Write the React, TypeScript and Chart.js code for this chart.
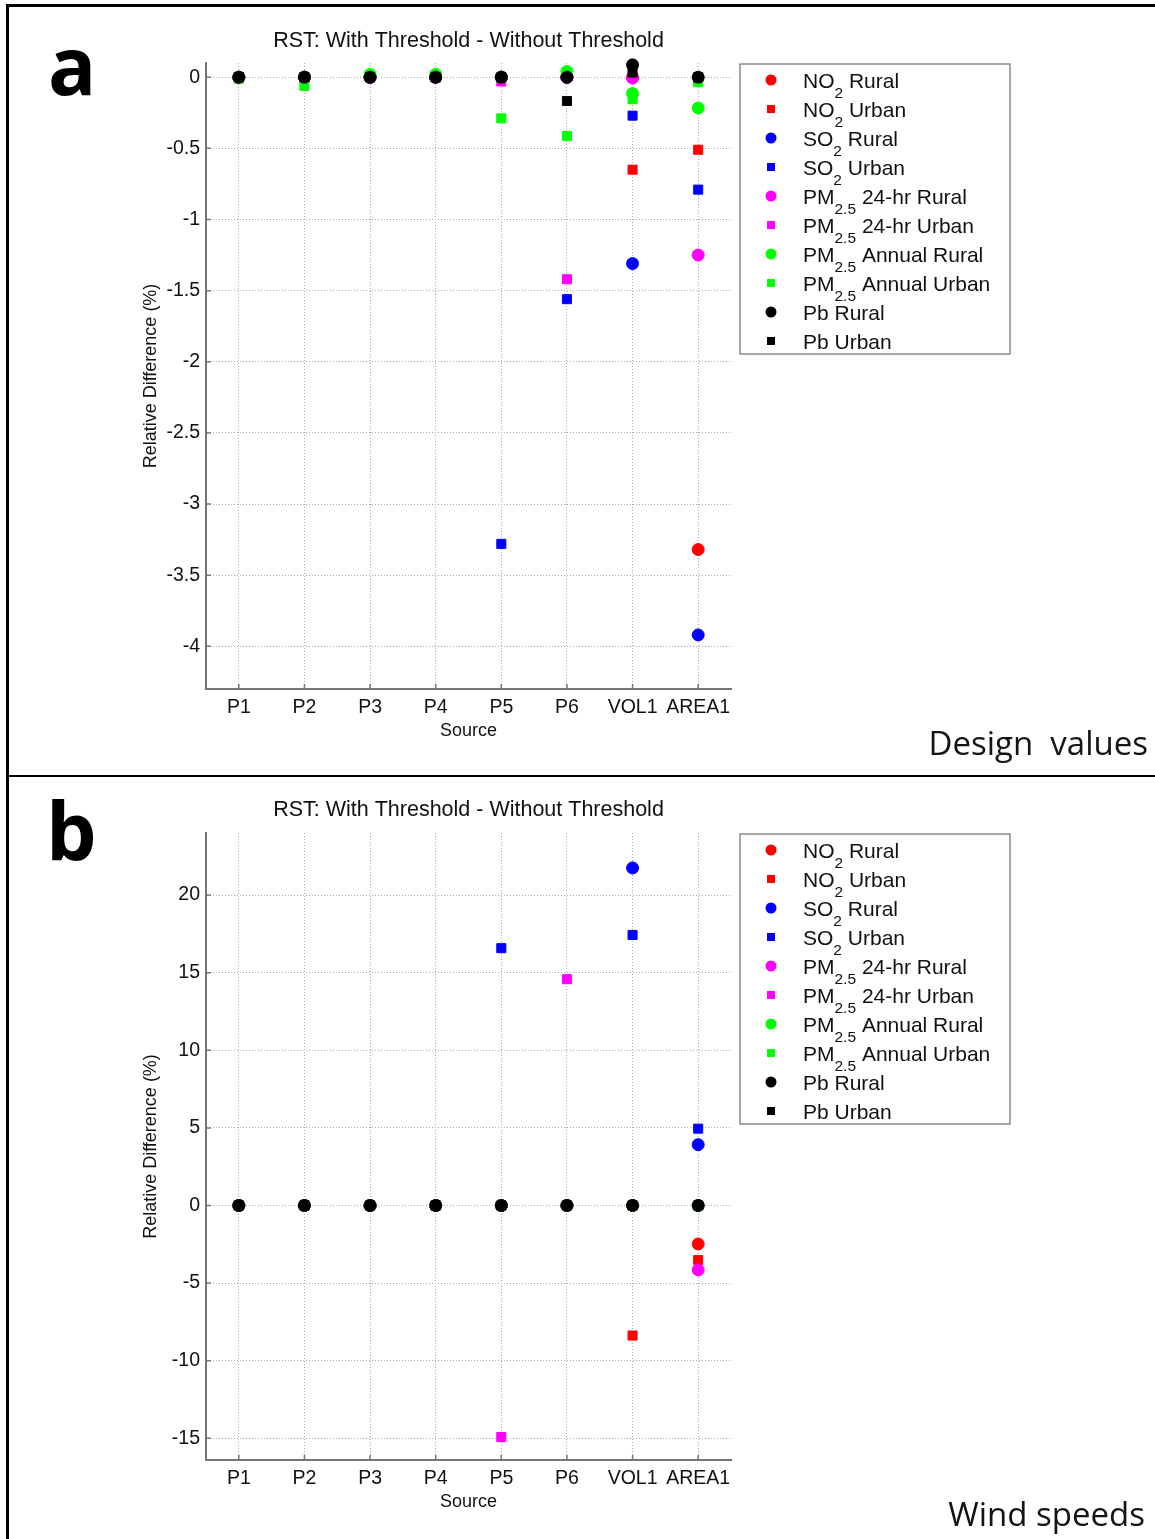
import React, { useEffect, useRef } from 'react';
import { Chart, registerables } from 'chart.js';

Chart.register(...registerables);

// ---------- categories & series ----------
const sources = ['P1', 'P2', 'P3', 'P4', 'P5', 'P6', 'VOL1', 'AREA1'];

const seriesBase = ['NO', 'NO', 'SO', 'SO', 'PM', 'PM', 'PM', 'PM', 'Pb', 'Pb'];
const seriesSub = ['2', '2', '2', '2', '2.5', '2.5', '2.5', '2.5', '', ''];
const seriesRest = ['Rural', 'Urban', 'Rural', 'Urban', '24-hr Rural', '24-hr Urban', 'Annual Rural', 'Annual Urban', 'Rural', 'Urban'];
const seriesColors = ['#ff0000', '#ff0000', '#0000ff', '#0000ff', '#ff00ff', '#ff00ff', '#00ff00', '#00ff00', '#000000', '#000000'];
const seriesShapes = ['circle', 'rect', 'circle', 'rect', 'circle', 'rect', 'circle', 'rect', 'circle', 'rect'];

// ---------- panel a: design values (%) ----------
const no2RuralA = [0, 0, 0, 0, 0, 0, 0, -3.32];
const no2UrbanA = [0, 0, 0, 0, 0, 0, -0.65, -0.51];
const so2RuralA = [0, 0, 0, 0, 0, 0, -1.31, -3.92];
const so2UrbanA = [0, 0, 0, 0, -3.28, -1.56, -0.27, -0.79];
const pm24RuralA = [0, 0, 0, 0, 0, 0, -0.005, -1.25];
const pm24UrbanA = [0, 0, 0, 0, -0.03, -1.42, 0, 0];
const pmAnnRuralA = [0, 0, 0.02, 0.02, 0, 0.04, -0.115, -0.216];
const pmAnnUrbanA = [-0.01, -0.061, 0.01, 0.01, -0.289, -0.413, -0.155, -0.035];
const pbRuralA = [0, 0, 0, 0, 0, 0, 0.087, 0];
const pbUrbanA = [0, 0, 0, 0, 0, -0.167, 0.033, 0];
const yTicksA = [0, -0.5, -1, -1.5, -2, -2.5, -3, -3.5, -4];

// ---------- panel b: wind speeds (%) ----------
const no2RuralB = [0, 0, 0, 0, 0, 0, 0, -2.48];
const no2UrbanB = [0, 0, 0, 0, 0, 0, -8.38, -3.52];
const so2RuralB = [0, 0, 0, 0, 0, 0, 21.75, 3.92];
const so2UrbanB = [0, 0, 0, 0, 16.58, 0, 17.43, 4.95];
const pm24RuralB = [0, 0, 0, 0, 0, 0, 0, -4.15];
const pm24UrbanB = [0, 0, 0, 0, -14.92, 14.58, 0, 0];
const pmAnnRuralB = [0, 0, 0, 0, 0, 0, 0, 0];
const pmAnnUrbanB = [0, 0, 0, 0, 0, 0, 0, 0];
const pbRuralB = [0, 0, 0, 0, 0, 0, 0, 0];
const pbUrbanB = [0, 0, 0, 0, 0, 0, 0, 0];
const yTicksB = [20, 15, 10, 5, 0, -5, -10, -15];

const titleText = 'RST: With Threshold - Without Threshold';
const xTitleText = 'Source';
const yTitleText = 'Relative Difference (%)';

const FONT = '"Liberation Sans", Arial, Helvetica, sans-serif';
const CAPTION_FONT = '"Open Sans", "Noto Sans", sans-serif';
const TXT = '#111111';
const AXIS = '#757575';
const GRID = '#ababab';

type PanelProps = {
  values: number[][];
  yMin: number;
  yMax: number;
  yTicks: number[];
  letter: string;
  caption: string;
  height: number;
  titleTop: number;
  titleBottom: number;
  padBottom: number;
  legendTop: number;
  letterX: number;
  letterY: number;
  captionX: number;
  captionY: number;
};

function Panel(p: PanelProps) {
  const ref = useRef<HTMLCanvasElement | null>(null);

  useEffect(() => {
    if (!ref.current) return;

    const decor = {
      id: 'decor',
      afterDraw(chart: any) {
        const ctx = chart.ctx as CanvasRenderingContext2D;
        const xs = chart.scales.x;
        const ys = chart.scales.y;
        const area = chart.chartArea;
        ctx.save();
        // inward tick marks
        ctx.strokeStyle = AXIS;
        ctx.lineWidth = 1.5;
        ctx.beginPath();
        for (let i = 0; i < sources.length; i++) {
          const x = xs.getPixelForTick(i);
          ctx.moveTo(x, area.bottom);
          ctx.lineTo(x, area.bottom - 5);
        }
        for (const t of ys.ticks) {
          const y = ys.getPixelForValue(t.value);
          ctx.moveTo(area.left, y);
          ctx.lineTo(area.left + 5, y);
        }
        ctx.stroke();

        // legend
        const boxL = 740;
        const boxR = 1010;
        const top = p.legendTop;
        const rowH = 29;
        ctx.fillStyle = '#ffffff';
        ctx.fillRect(boxL, top, boxR - boxL, 290);
        ctx.strokeStyle = '#8a8a8a';
        ctx.lineWidth = 1.5;
        ctx.strokeRect(boxL, top, boxR - boxL, 290);
        for (let i = 0; i < seriesBase.length; i++) {
          const cy = top + 16 + rowH * i;
          const mx = 771;
          ctx.fillStyle = seriesColors[i];
          if (seriesShapes[i] === 'circle') {
            ctx.beginPath();
            ctx.arc(mx, cy, 5.5, 0, Math.PI * 2);
            ctx.fill();
          } else {
            ctx.fillRect(mx - 4, cy - 4, 8, 8);
          }
          ctx.fillStyle = TXT;
          ctx.textAlign = 'left';
          ctx.textBaseline = 'alphabetic';
          const mainFont = `21px ${FONT}`;
          const subFont = `15.5px ${FONT}`;
          let x = 803;
          ctx.font = mainFont;
          ctx.fillText(seriesBase[i], x, cy + 7.5);
          x += ctx.measureText(seriesBase[i]).width;
          if (seriesSub[i]) {
            ctx.font = subFont;
            ctx.fillText(seriesSub[i], x, cy + 18);
            x += ctx.measureText(seriesSub[i]).width;
            ctx.font = mainFont;
          }
          ctx.fillText(' ' + seriesRest[i], x, cy + 7.5);
        }

        // panel letter
        ctx.fillStyle = '#000000';
        ctx.textAlign = 'left';
        ctx.textBaseline = 'alphabetic';
        ctx.font = `bold 80px ${CAPTION_FONT}`;
        ctx.fillText(p.letter, p.letterX, p.letterY);

        // caption
        ctx.font = `33px ${CAPTION_FONT}`;
        ctx.textAlign = 'right';
        ctx.fillStyle = '#141414';
        ctx.fillText(p.caption, p.captionX, p.captionY);
        ctx.restore();
      },
    };

    const chart = new Chart(ref.current, {
      type: 'line',
      data: {
        labels: sources,
        datasets: p.values.map((vals, i) => ({
          label: `${seriesBase[i]}${seriesSub[i]} ${seriesRest[i]}`,
          data: vals,
          showLine: false,
          pointStyle: seriesShapes[i] as any,
          pointRadius: seriesShapes[i] === 'circle' ? 6 : 6.4,
          pointHoverRadius: seriesShapes[i] === 'circle' ? 6 : 6.4,
          pointBackgroundColor: seriesColors[i],
          pointBorderColor: seriesColors[i],
          pointBorderWidth: 1,
          borderColor: seriesColors[i],
          backgroundColor: seriesColors[i],
          order: 10 - i,
          clip: false as any,
        })),
      },
      options: {
        animation: false,
        responsive: true,
        maintainAspectRatio: false,
        events: [],
        layout: { padding: { left: 140, right: 424, top: 0, bottom: p.padBottom } },
        plugins: {
          legend: { display: false },
          tooltip: { enabled: false },
          title: {
            display: true,
            text: titleText,
            fullSize: false,
            color: TXT,
            font: { family: FONT, size: 21.5, weight: 'normal', lineHeight: '24px' } as any,
            padding: { top: p.titleTop, bottom: p.titleBottom },
          },
        },
        scales: {
          x: {
            type: 'category',
            offset: true,
            grid: { offset: false, color: GRID, lineWidth: 1, drawTicks: false },
            border: { display: true, color: AXIS, width: 2, dash: [1, 2] },
            ticks: {
              color: TXT,
              font: { family: FONT, size: 19.5 },
              padding: 7,
              autoSkip: false,
              maxRotation: 0,
              minRotation: 0,
            },
            title: {
              display: true,
              text: xTitleText,
              color: TXT,
              font: { family: FONT, size: 18 },
              padding: 0,
            },
            afterFit: (s: any) => {
              s.height = 53;
            },
          },
          y: {
            type: 'linear',
            min: p.yMin,
            max: p.yMax,
            afterBuildTicks: (s: any) => {
              s.ticks = p.yTicks.map((v) => ({ value: v }));
            },
            grid: { color: GRID, lineWidth: 1, drawTicks: false },
            border: { display: true, color: AXIS, width: 2, dash: [1, 2] },
            ticks: {
              color: TXT,
              font: { family: FONT, size: 19.5 },
              padding: 6,
              callback: (v: any) => String(v),
            },
            title: {
              display: true,
              text: yTitleText,
              color: TXT,
              font: { family: FONT, size: 18 },
              padding: 0,
            },
            afterFit: (s: any) => {
              s.width = 66;
            },
          },
        },
      },
      plugins: [decor],
    } as any);

    return () => chart.destroy();
  }, []);

  return (
    <div style={{ position: 'relative', width: 1155, height: p.height }}>
      <canvas ref={ref} />
    </div>
  );
}

export default function App() {
  return (
    <div
      style={{
        position: 'absolute',
        left: 0,
        top: 0,
        width: 1155,
        height: 1539,
        background: '#ffffff',
        overflow: 'hidden',
      }}
    >
      <Panel
        values={[no2RuralA, no2UrbanA, so2RuralA, so2UrbanA, pm24RuralA, pm24UrbanA, pmAnnRuralA, pmAnnUrbanA, pbRuralA, pbUrbanA]}
        yMin={-4.3}
        yMax={0.1}
        yTicks={yTicksA}
        letter="a"
        caption="Design  values"
        height={776}
        titleTop={29}
        titleBottom={10}
        padBottom={34}
        legendTop={64}
        letterX={48}
        letterY={95}
        captionX={1148}
        captionY={755}
      />
      <Panel
        values={[no2RuralB, no2UrbanB, so2RuralB, so2UrbanB, pm24RuralB, pm24UrbanB, pmAnnRuralB, pmAnnUrbanB, pbRuralB, pbUrbanB]}
        yMin={-16.4}
        yMax={24}
        yTicks={yTicksB}
        letter="b"
        caption="Wind speeds"
        height={763}
        titleTop={22}
        titleBottom={11}
        padBottom={26}
        legendTop={58}
        letterX={46}
        letterY={84}
        captionX={1145}
        captionY={750}
      />
      <div style={{ position: 'absolute', left: 6, top: 4, width: 3, height: 1535, background: '#000' }} />
      <div style={{ position: 'absolute', left: 6, top: 4, width: 1149, height: 3, background: '#000' }} />
      <div style={{ position: 'absolute', left: 6, top: 775, width: 1149, height: 2, background: '#000' }} />
    </div>
  );
}
